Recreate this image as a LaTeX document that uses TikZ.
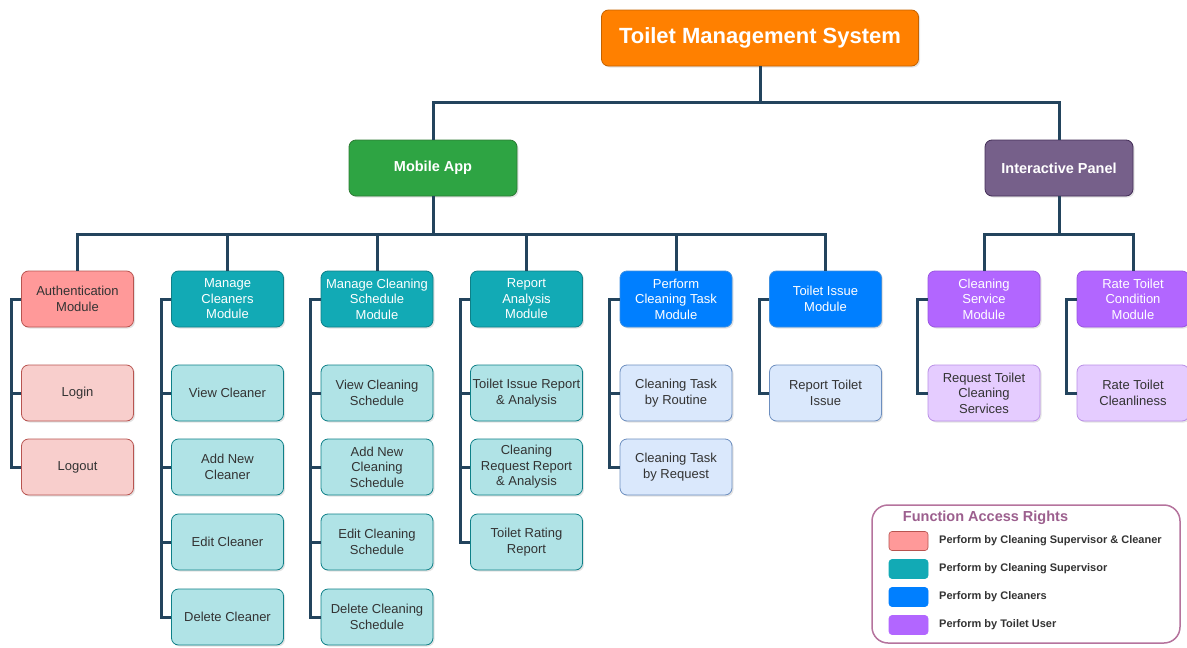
\documentclass[tikz,border=0pt]{standalone}
\usepackage{fontspec}
\setmainfont{Liberation Sans}
\usetikzlibrary{shadows}
\definecolor{conncol}{HTML}{23445D}
\definecolor{orangef}{HTML}{FF8000}\definecolor{oranged}{HTML}{C46200}
\definecolor{greenf}{HTML}{2EA443}\definecolor{greend}{HTML}{2D7A34}
\definecolor{panelf}{HTML}{76608A}\definecolor{paneld}{HTML}{432D57}
\definecolor{pinkf}{HTML}{FF9999}\definecolor{pinkd}{HTML}{B85450}
\definecolor{pinkc}{HTML}{F8CECC}
\definecolor{tealf}{HTML}{12AAB5}\definecolor{teald}{HTML}{0E8088}
\definecolor{tealc}{HTML}{B0E3E6}
\definecolor{bluef}{HTML}{007FFF}\definecolor{blued}{HTML}{3D8FE0}
\definecolor{bluec}{HTML}{DAE8FC}\definecolor{bluecd}{HTML}{6C8EBF}
\definecolor{purpf}{HTML}{B266FF}\definecolor{purpd}{HTML}{9A55E0}
\definecolor{purpc}{HTML}{E5CCFF}\definecolor{purpcd}{HTML}{B98FE6}
\definecolor{txt}{HTML}{333333}
\definecolor{legd}{HTML}{B5739D}\definecolor{legt}{HTML}{9C5F8E}
\begin{document}
\begin{tikzpicture}[x=1pt,y=-1pt,
  box/.style={rounded corners=7pt, minimum width=112pt, minimum height=56pt, align=center,
    font=\fontsize{13}{15.5}\selectfont, inner sep=1pt, draw, line width=0.8pt,
    drop shadow={opacity=0.22,shadow xshift=1.5pt,shadow yshift=-1.5pt}},
  pinkm/.style={box, fill=pinkf, draw=pinkd, text=txt},
  pinkch/.style={box, fill=pinkc, draw=pinkd, text=txt},
  tealm/.style={box, fill=tealf, draw=teald, text=white},
  tealch/.style={box, fill=tealc, draw=teald, text=txt},
  bluem/.style={box, fill=bluef, draw=blued, text=white},
  bluech/.style={box, fill=bluec, draw=bluecd, text=txt},
  purpm/.style={box, fill=purpf, draw=purpd, text=white},
  purpch/.style={box, fill=purpc, draw=purpcd, text=txt},
  topbox/.style={box, font=\fontsize{14.5}{17}\selectfont\bfseries, text=white},
  conn/.style={draw=conncol, line width=3pt},
  swatch/.style={rounded corners=3pt, minimum width=39pt, minimum height=19pt, draw, line width=0.6pt, inner sep=0pt},
  legtxt/.style={anchor=west, font=\fontsize{11}{13}\selectfont\bfseries, text=txt, inner sep=0pt}
]
\useasboundingbox (0,0) rectangle (1187,648);

% top level
\node[topbox, fill=orangef, draw=oranged, minimum width=317pt, font=\fontsize{22}{26}\selectfont\bfseries] (title) at (760,38) {Toilet Management System};
\node[topbox, fill=greenf, draw=greend, minimum width=168pt] (mobile) at (433,168) {Mobile App};
\node[topbox, fill=panelf, draw=paneld, minimum width=148pt] (panel) at (1059,168) {Interactive Panel};

% modules
\node[pinkm] (auth) at (77.5,299) {Authentication\\Module};
\node[tealm] (mcl) at (227.5,299) {Manage\\Cleaners\\Module};
\node[tealm] (mcs) at (377,299) {Manage Cleaning\\Schedule\\Module};
\node[tealm] (rep) at (526.5,299) {Report\\Analysis\\Module};
\node[bluem] (pct) at (676,299) {Perform\\Cleaning Task\\Module};
\node[bluem] (tim) at (825.5,299) {Toilet Issue\\Module};
\node[purpm] (csm) at (984,299) {Cleaning\\Service\\Module};
\node[purpm] (rtc) at (1133,299) {Rate Toilet\\Condition\\Module};

% children
\node[pinkch] (login) at (77.5,393) {Login};
\node[pinkch] (logout) at (77.5,467) {Logout};

\node[tealch] (viewc) at (227.5,393) {View Cleaner};
\node[tealch] (addc) at (227.5,467) {Add New\\Cleaner};
\node[tealch] (editc) at (227.5,542) {Edit Cleaner};
\node[tealch] (delc) at (227.5,617) {Delete Cleaner};

\node[tealch] (views) at (377,393) {View Cleaning\\Schedule};
\node[tealch] (adds) at (377,467) {Add New\\Cleaning\\Schedule};
\node[tealch] (edits) at (377,542) {Edit Cleaning\\Schedule};
\node[tealch] (dels) at (377,617) {Delete Cleaning\\Schedule};

\node[tealch] (tir) at (526.5,393) {Toilet Issue Report\\\& Analysis};
\node[tealch] (crr) at (526.5,467) {Cleaning\\Request Report\\\& Analysis};
\node[tealch] (trr) at (526.5,542) {Toilet Rating\\Report};

\node[bluech] (ctr) at (676,393) {Cleaning Task\\by Routine};
\node[bluech] (ctq) at (676,467) {Cleaning Task\\by Request};

\node[bluech] (rti) at (825.5,393) {Report Toilet\\Issue};

\node[purpch] (rtcs) at (984,393) {Request Toilet\\Cleaning\\Services};
\node[purpch] (rtcl) at (1133,393) {Rate Toilet\\Cleanliness};

% top connectors
\coordinate (b1) at (760,102);
\draw[conn] (title.south) -- (b1) -| (mobile.north);
\draw[conn] (b1) -| (panel.north);

\coordinate (b2) at (433,234);
\draw[conn] (mobile.south) -- (b2);
\foreach \m in {auth,mcl,mcs,rep,pct,tim}
  \draw[conn] (b2) -| (\m.north);

\coordinate (b3) at (1059,234);
\draw[conn] (panel.south) -- (b3);
\foreach \m in {csm,rtc}
  \draw[conn] (b3) -| (\m.north);

% trees
\foreach \m/\last/\mids in {auth/logout/{login}, mcl/delc/{viewc,addc,editc}, mcs/dels/{views,adds,edits}, rep/trr/{tir,crr}, pct/ctq/{ctr}, tim/rti/{}, csm/rtcs/{}, rtc/rtcl/{}} {
  \draw[conn] (\m.west) -| ([xshift=-10pt]\m.west |- \last.west) -- (\last.west);
  \foreach \c in \mids
    \draw[conn] ([xshift=-10pt]\m.west |- \c.west) -- (\c.west);
}

% legend
\node[draw=legd, line width=1.5pt, rounded corners=16pt, minimum width=308pt, minimum height=138pt, fill=white] (legend) at (1026,574) {};
\node[font=\fontsize{14.5}{17}\selectfont\bfseries, text=legt, inner sep=0pt] (legtitle) at (985.5,518) {Function Access Rights};
\node[swatch, fill=pinkf, draw=pinkd] (s1) at (908.5,541) {};
\node[swatch, fill=tealf, draw=tealf] (s2) at (908.5,569) {};
\node[swatch, fill=bluef, draw=bluef] (s3) at (908.5,597) {};
\node[swatch, fill=purpf, draw=purpf] (s4) at (908.5,625) {};
\node[legtxt] (l1) at (939,541) {Perform by Cleaning Supervisor \& Cleaner};
\node[legtxt] (l2) at (939,569) {Perform by Cleaning Supervisor};
\node[legtxt] (l3) at (939,597) {Perform by Cleaners};
\node[legtxt] (l4) at (939,625) {Perform by Toilet User};
\end{tikzpicture}
\end{document}
